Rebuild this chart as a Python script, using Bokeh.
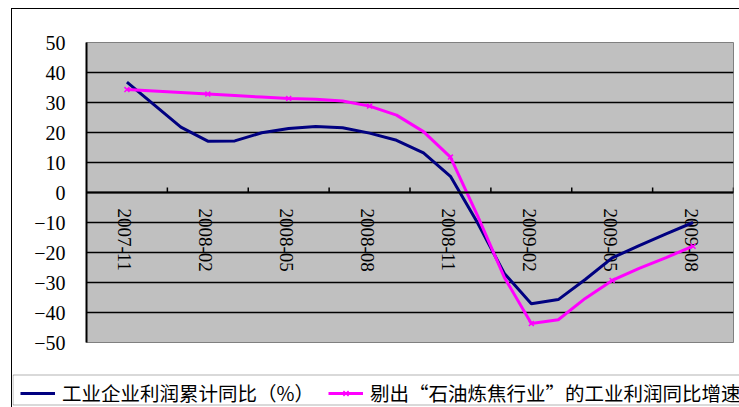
import math
from bokeh.plotting import figure
from bokeh.layouts import column
from bokeh.models import Range1d, FixedTicker, Legend, LegendItem, Span, BoxAnnotation
from bokeh.core.properties import value
from bokeh.embed import file_html
from bokeh.resources import INLINE

# ---- data ----
months = ["2007-11", "2007-12", "2008-01", "2008-02", "2008-03", "2008-04",
          "2008-05", "2008-06", "2008-07", "2008-08", "2008-09", "2008-10",
          "2008-11", "2008-12", "2009-01", "2009-02", "2009-03", "2009-04",
          "2009-05", "2009-06", "2009-07", "2009-08"]
profit_total = [36.8, 29.3, 21.8, 17.1, 17.2, 19.9, 21.3, 22.0, 21.6, 19.8,
                17.4, 13.2, 5.4, -10.0, -27.0, -37.1, -35.7, -29.0, -21.8,
                -17.7, -13.8, -10.0]
profit_ex_petro = [34.3, 33.8, 33.3, 32.8, 32.3, 31.8, 31.3, 31.1, 30.5, 28.8,
                   25.8, 20.3, 11.8, -7.6, -28.3, -43.7, -42.4, -35.3, -29.3,
                   -25.3, -21.7, -17.9]
series_names = ["工业企业利润累计同比（%）", "剔出“石油炼焦行业”的工业利润同比增速"]
label_every = 3
y_ticks = [-50, -40, -30, -20, -10, 0, 10, 20, 30, 40, 50]
y_tick_labels = ["−50", "−40", "−30", "−20", "−10", "0", "10", "20", "30", "40", "50"]

# ---- derived positions (one empty category slot at each end) ----
n_slots = len(months) + 2
xs = [i + 1.5 for i in range(len(months))]
label_x = xs[::label_every]
label_text = months[::label_every]
mark_x = xs[::label_every]
mark_y = profit_ex_petro[::label_every]
tick_x = list(range(label_every, n_slots + 1, label_every))

SERIF = "'Liberation Serif'"
BLUE = "#000080"
PINK = "#FF00FF"

p = figure(width=727, height=350, output_backend="svg", toolbar_location=None,
           x_range=Range1d(0, n_slots), y_range=Range1d(-50, 50),
           x_axis_location=None,
           min_border_left=74, min_border_right=6, min_border_top=33, min_border_bottom=17,
           background_fill_color="#C0C0C0", border_fill_color="white",
           outline_line_color="#808080", outline_line_width=1)
p.frame_align = False

ticker = FixedTicker(ticks=y_ticks)
p.yaxis.ticker = ticker
p.yaxis.major_label_overrides = dict(zip(y_ticks, y_tick_labels))
p.yaxis.major_label_text_font = SERIF
p.yaxis.major_label_text_font_size = "20px"
p.yaxis.major_label_text_color = "black"
p.yaxis.axis_line_color = "black"
p.yaxis.axis_line_width = 2
p.yaxis.major_tick_in = 0
p.yaxis.major_tick_out = 0
p.yaxis.minor_tick_line_color = None
p.yaxis.major_label_standoff = 21

p.ygrid.ticker = ticker
p.ygrid.grid_line_color = "black"
p.ygrid.grid_line_width = 1.3
p.xgrid.visible = False

p.add_layout(Span(location=0, dimension="width", line_color="black", line_width=2))

# category axis drawn at y = 0 inside the plot
p.segment(x0=tick_x, y0=[0] * len(tick_x), x1=tick_x, y1=[1.7] * len(tick_x),
          line_color="black", line_width=1.5)
p.text(x=label_x, y=[0] * len(label_x), text=label_text, angle=-math.pi / 2,
       text_align="left", text_baseline="middle", y_offset=16, x_offset=-2,
       text_font=value(SERIF), text_font_size="19px", text_color="black")

p.line(xs, profit_total, line_color=BLUE, line_width=3)
p.line(xs, profit_ex_petro, line_color=PINK, line_width=3)
p.scatter(mark_x, mark_y, marker="x", size=7, line_color=PINK, line_width=1.5)

# ---- legend strip below the chart (its key renderers lie outside its view) ----
lp = figure(width=727, height=48, output_backend="svg", toolbar_location=None,
            x_range=Range1d(-10, -9), y_range=Range1d(-50, 50),
            x_axis_location=None, y_axis_location=None,
            min_border_left=0, min_border_right=0, min_border_top=0, min_border_bottom=0,
            background_fill_color="white", border_fill_color="white",
            outline_line_color=None)
lp.frame_align = False
lp.xgrid.visible = False
lp.ygrid.visible = False
k1 = lp.line(xs, profit_total, line_color=BLUE, line_width=3)
k2 = lp.line(xs, profit_ex_petro, line_color=PINK, line_width=3)
k3 = lp.scatter(mark_x, mark_y, marker="x", size=7, line_color=PINK, line_width=1.5)

lp.add_layout(BoxAnnotation(left=0.5, right=2000, top=15.5, bottom=45.5,
                            left_units="canvas", right_units="canvas",
                            top_units="canvas", bottom_units="canvas",
                            fill_alpha=0, line_color="black", line_width=1))

legend = Legend(items=[LegendItem(label=series_names[0], renderers=[k1]),
                       LegendItem(label=series_names[1], renderers=[k2, k3])],
                orientation="horizontal", location=(8, 0),
                border_line_color=None, background_fill_alpha=0,
                label_text_font="'Noto Sans CJK SC'", label_text_font_size="19.5px",
                label_text_color="black",
                glyph_width=35, glyph_height=18, label_height=18,
                label_standoff=7, spacing=14, padding=0, margin=0)
lp.add_layout(legend, "center")

page = column(p, lp, spacing=0,
              styles={"margin-left": "11px", "margin-top": "8px",
                      "border-left": "1px solid black", "border-top": "1px solid black"})

open("out.html", "w").write(file_html(page, INLINE))
